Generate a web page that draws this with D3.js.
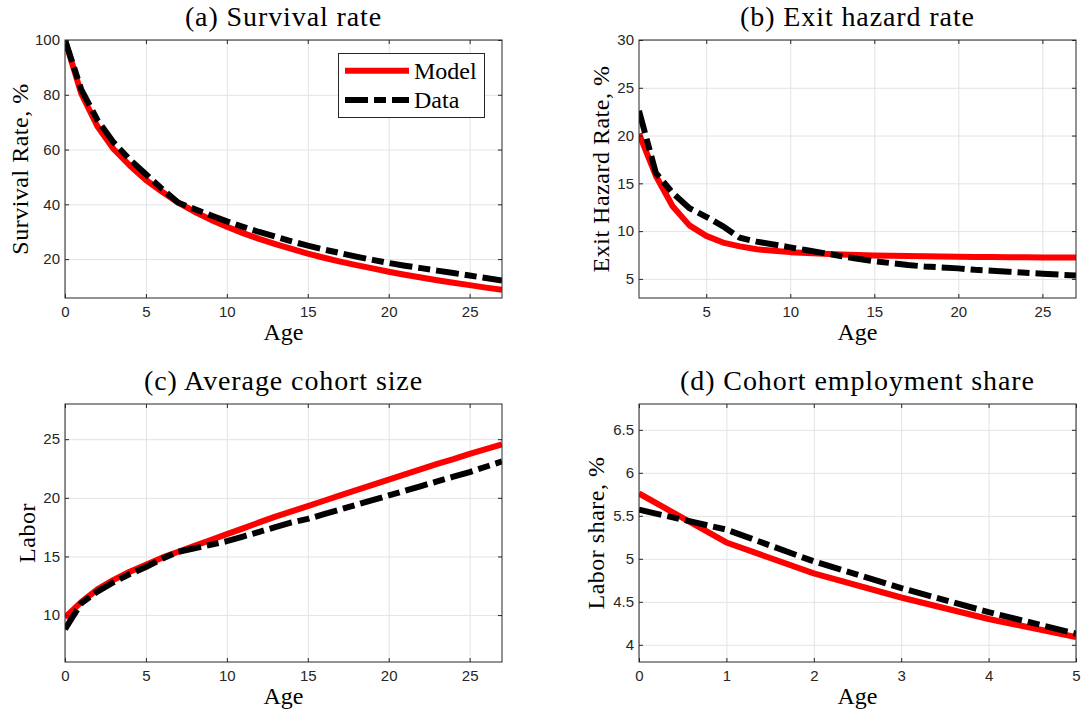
<!DOCTYPE html>
<html>
<head>
<meta charset="utf-8">
<script src="https://cdn.jsdelivr.net/npm/d3@7"></script>
<style>
body { margin: 0; background: #fff; }
.grid line { stroke: #e3e3e3; stroke-width: 1; }
.grid path { display: none; }
.ax path { display: none; }
.ax line { stroke: #262626; stroke-width: 1; }
.ax text { font-family: "Liberation Sans", Arial, sans-serif; font-size: 15px; fill: #262626; }
.ttl, .lbl, .leg { font-family: "Liberation Serif", "Times New Roman", serif; fill: #000; }
</style>
</head>
<body>
<svg id="chart" width="1081" height="712"></svg>
<script>
// ages
var ages = d3.range(0, 28);        // 0..27
var hazardAges = d3.range(1, 28);  // 1..27
var shareAges = d3.range(0, 6);    // 0..5

// (a) survival rate, %
var survivalModel = [100, 80.5, 68.5, 60.2, 54.2, 48.9, 44.6, 40.6, 37.3, 34.4, 31.8,
    29.5, 27.4, 25.5, 23.7, 22.0, 20.5, 19.1, 17.8, 16.6, 15.4, 14.3, 13.3, 12.3, 11.4, 10.5, 9.6, 8.8];
var survivalData = [100, 82, 70.8, 62.6, 56.4, 51.0, 45.6, 40.6, 38.3, 36.0, 33.8,
    31.8, 29.9, 28.2, 26.5, 24.9, 23.5, 22.2, 20.9, 19.7, 18.6, 17.6, 16.7, 15.8, 14.9, 14.0, 13.1, 12.2];

// (b) exit hazard rate, %
var hazardModel = [20.2, 15.8, 12.6, 10.6, 9.5, 8.8, 8.4, 8.1, 7.95, 7.8, 7.7, 7.62, 7.56, 7.5,
    7.46, 7.42, 7.39, 7.36, 7.34, 7.32, 7.3, 7.28, 7.27, 7.26, 7.25, 7.24, 7.23];
var hazardData = [22.6, 16.1, 14.0, 12.4, 11.5, 10.5, 9.3, 8.9, 8.6, 8.3, 8.0, 7.7, 7.4, 7.1,
    6.85, 6.65, 6.45, 6.3, 6.2, 6.1, 5.95, 5.85, 5.75, 5.65, 5.55, 5.45, 5.35];

// (c) average cohort size
var laborModel = [9.8, 11.1, 12.2, 13.0, 13.7, 14.3, 14.9, 15.4, 15.9, 16.4, 16.9, 17.4, 17.9, 18.4,
    18.85, 19.3, 19.75, 20.2, 20.65, 21.1, 21.55, 22.0, 22.45, 22.9, 23.3, 23.75, 24.15, 24.55];
var laborData = [8.8, 11.0, 12.0, 12.8, 13.5, 14.1, 14.8, 15.4, 15.7, 16.0, 16.3, 16.7, 17.1, 17.5,
    17.9, 18.2, 18.6, 19.0, 19.4, 19.8, 20.2, 20.6, 21.0, 21.4, 21.8, 22.2, 22.65, 23.1];

// (d) cohort employment share, %
var shareModel = [5.76, 5.19, 4.83, 4.55, 4.30, 4.09];
var shareData = [5.57, 5.34, 4.97, 4.66, 4.38, 4.13];

var svg = d3.select("#chart");
var redColor = "#ff0000";
var dashPattern = "23,6,12,6";

function zip(xs, ys) {
    return xs.map(function (d, i) { return [d, ys[i]]; });
}

function drawPanel(cfg) {
    var x = d3.scaleLinear().domain(cfg.xDomain).range([cfg.left, cfg.right]);
    var y = d3.scaleLinear().domain(cfg.yDomain).range([cfg.bottom, cfg.top]);
    var w = cfg.right - cfg.left, h = cfg.bottom - cfg.top;
    var g = svg.append("g");

    // grid
    g.append("g").attr("class", "grid")
            .attr("transform", "translate(0," + cfg.bottom + ")")
            .call(d3.axisBottom(x).tickValues(cfg.xTicks).tickSize(-h).tickFormat(""));
    g.append("g").attr("class", "grid")
            .attr("transform", "translate(" + cfg.left + ",0)")
            .call(d3.axisLeft(y).tickValues(cfg.yTicks).tickSize(-w).tickFormat(""));

    // clip
    g.append("clipPath").attr("id", "clip-" + cfg.id)
            .append("rect")
            .attr("x", cfg.left).attr("y", cfg.top)
            .attr("width", w).attr("height", h);

    var line = d3.line()
            .x(function (d) { return x(d[0]); })
            .y(function (d) { return y(d[1]); });

    var lines = g.append("g").attr("clip-path", "url(#clip-" + cfg.id + ")");
    lines.append("path")
            .datum(zip(cfg.xs, cfg.model))
            .attr("d", line)
            .attr("fill", "none")
            .attr("stroke", redColor)
            .attr("stroke-width", 6)
            .attr("stroke-linejoin", "round");
    lines.append("path")
            .datum(zip(cfg.xs, cfg.data))
            .attr("d", line)
            .attr("fill", "none")
            .attr("stroke", "#000")
            .attr("stroke-width", 6)
            .attr("stroke-dasharray", dashPattern);

    // axes with inward ticks on all four sides
    var fmt = function (d) { return d; };
    g.append("g").attr("class", "ax")
            .attr("transform", "translate(0," + cfg.bottom + ")")
            .call(d3.axisBottom(x).tickValues(cfg.xTicks).tickSizeInner(-4).tickSizeOuter(0).tickPadding(8).tickFormat(fmt));
    g.append("g").attr("class", "ax")
            .attr("transform", "translate(0," + cfg.top + ")")
            .call(d3.axisTop(x).tickValues(cfg.xTicks).tickSizeInner(-4).tickSizeOuter(0).tickFormat(""));
    g.append("g").attr("class", "ax")
            .attr("transform", "translate(" + cfg.left + ",0)")
            .call(d3.axisLeft(y).tickValues(cfg.yTicks).tickSizeInner(-4).tickSizeOuter(0).tickPadding(5).tickFormat(fmt));
    g.append("g").attr("class", "ax")
            .attr("transform", "translate(" + cfg.right + ",0)")
            .call(d3.axisRight(y).tickValues(cfg.yTicks).tickSizeInner(-4).tickSizeOuter(0).tickFormat(""));

    g.append("rect")
            .attr("x", cfg.left).attr("y", cfg.top)
            .attr("width", w).attr("height", h)
            .attr("fill", "none")
            .attr("stroke", "#262626")
            .attr("stroke-width", 1);

    // title and labels
    g.append("text").attr("class", "ttl")
            .attr("x", (cfg.left + cfg.right) / 2)
            .attr("y", cfg.top - 14)
            .attr("text-anchor", "middle")
            .style("font-size", "28px")
            .style("letter-spacing", "0.9px")
            .text(cfg.title);
    g.append("text").attr("class", "lbl")
            .attr("x", (cfg.left + cfg.right) / 2)
            .attr("y", cfg.bottom + 42)
            .attr("text-anchor", "middle")
            .style("font-size", "24px")
            .text("Age");
    g.append("text").attr("class", "lbl")
            .attr("transform", "translate(" + (cfg.left - cfg.yLabelOffset) + "," + ((cfg.top + cfg.bottom) / 2) + ") rotate(-90)")
            .attr("text-anchor", "middle")
            .style("font-size", "24px")
            .style("letter-spacing", "0.5px")
            .text(cfg.yLabel);
}

drawPanel({
    id: "a", title: "(a) Survival rate", yLabel: "Survival Rate, %", yLabelOffset: 37,
    left: 65, right: 502, top: 40, bottom: 298,
    xDomain: [0, 27], yDomain: [5.8, 100],
    xTicks: [0, 5, 10, 15, 20, 25], yTicks: [20, 40, 60, 80, 100],
    xs: ages, model: survivalModel, data: survivalData
});
drawPanel({
    id: "b", title: "(b) Exit hazard rate", yLabel: "Exit Hazard Rate, %", yLabelOffset: 30,
    left: 639, right: 1076, top: 40, bottom: 298,
    xDomain: [1, 27], yDomain: [3, 30],
    xTicks: [5, 10, 15, 20, 25], yTicks: [5, 10, 15, 20, 25, 30],
    xs: hazardAges, model: hazardModel, data: hazardData
});
drawPanel({
    id: "c", title: "(c) Average cohort size", yLabel: "Labor", yLabelOffset: 30,
    left: 65, right: 502, top: 404, bottom: 662,
    xDomain: [0, 27], yDomain: [6, 28],
    xTicks: [0, 5, 10, 15, 20, 25], yTicks: [10, 15, 20, 25],
    xs: ages, model: laborModel, data: laborData
});
drawPanel({
    id: "d", title: "(d) Cohort employment share", yLabel: "Labor share, %", yLabelOffset: 35,
    left: 639, right: 1076, top: 404, bottom: 662,
    xDomain: [0, 5], yDomain: [3.8, 6.8],
    xTicks: [0, 1, 2, 3, 4, 5], yTicks: [4, 4.5, 5, 5.5, 6, 6.5],
    xs: shareAges, model: shareModel, data: shareData
});

// legend in panel (a)
var legend = svg.append("g");
legend.append("rect")
        .attr("x", 338.5).attr("y", 53.5)
        .attr("width", 146).attr("height", 64)
        .attr("fill", "#fff")
        .attr("stroke", "#262626")
        .attr("stroke-width", 1);
var legendItems = [
    {name: "Model", color: redColor, dash: null},
    {name: "Data", color: "#000", dash: dashPattern}
];
legendItems.forEach(function (d, i) {
    var yy = 70.7 + i * 29.3;
    legend.append("line")
            .attr("x1", 345).attr("x2", 409)
            .attr("y1", yy).attr("y2", yy)
            .attr("stroke", d.color)
            .attr("stroke-width", 6)
            .attr("stroke-dasharray", d.dash);
    legend.append("text").attr("class", "leg")
            .attr("x", 414).attr("y", yy)
            .attr("dy", "0.35em")
            .style("font-size", "24px")
            .text(d.name);
});
</script>
</body>
</html>
